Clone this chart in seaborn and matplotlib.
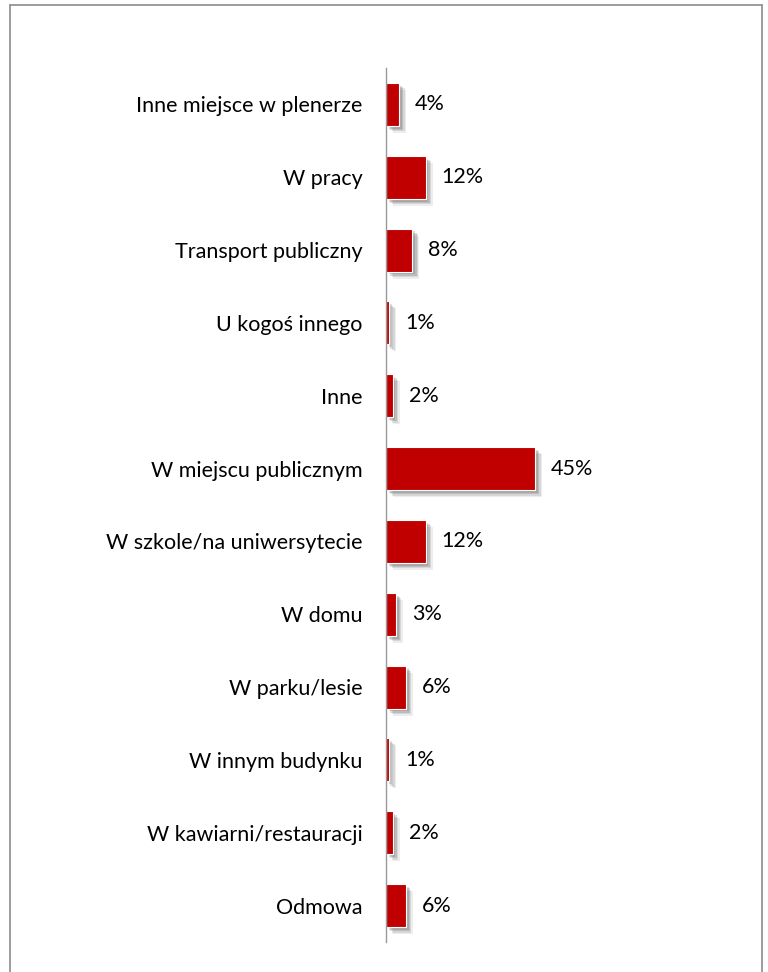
import matplotlib
matplotlib.use("Agg")
import matplotlib.pyplot as plt
import matplotlib.patheffects as pe
from matplotlib.lines import Line2D
import seaborn as sns
import pandas as pd

categories = ["Inne miejsce w plenerze", "W pracy", "Transport publiczny", "U kogoś innego",
              "Inne", "W miejscu publicznym", "W szkole/na uniwersytecie", "W domu",
              "W parku/lesie", "W innym budynku", "W kawiarni/restauracji", "Odmowa"]
values = [4, 12, 8, 1, 2, 45, 12, 3, 6, 1, 2, 6]
labels = ["4%", "12%", "8%", "1%", "2%", "45%", "12%", "3%", "6%", "1%", "2%", "6%"]

sns.set_theme(style="white")
plt.rcParams['font.family'] = ['Lato', 'DejaVu Sans']

df = pd.DataFrame({"cat": categories, "val": values})

fig = plt.figure(figsize=(7.68, 9.72), dpi=100)
ax = fig.add_axes([386/768, 1-942/972, 300/768, (942-68)/972])
sns.barplot(data=df, y="cat", x="val", orient="h", color="#C00000", width=0.59,
            saturation=1, ax=ax, edgecolor="white", linewidth=0.8)
shadow = []
for off, a in [((5, -5), 0.10), ((4, -4), 0.15), ((3, -3), 0.2), ((2, -2), 0.2)]:
    shadow.append(pe.SimplePatchShadow(offset=off, shadow_rgbFace="#555555", alpha=a))
for p in ax.patches:
    p.set_path_effects(shadow + [pe.Normal()])

px_per = 3.31
ax.set_xlim(0, 300/px_per)
for i, (v, lab) in enumerate(zip(values, labels)):
    ax.text(v + 16/px_per, i, lab, va="center", ha="left", fontsize=15.5, color="black")

ax.set_xlabel("")
ax.set_ylabel("")
ax.set_xticks([])
ax.tick_params(axis="y", length=0, pad=17, labelsize=15.5, labelcolor="black")
for s in ["top", "right", "bottom"]:
    ax.spines[s].set_visible(False)
ax.spines["left"].set_color("#999999")
ax.spines["left"].set_linewidth(1)

# figure frame
fc = "#8c8c8c"
fig.add_artist(Line2D([10/768, 10/768], [0, 1-5/972], color=fc, lw=1.2, transform=fig.transFigure))
fig.add_artist(Line2D([762/768, 762/768], [0, 1-5/972], color=fc, lw=1.2, transform=fig.transFigure))
fig.add_artist(Line2D([10/768, 762/768], [1-5/972, 1-5/972], color=fc, lw=1.2, transform=fig.transFigure))

fig.savefig("out.png", dpi=100)
